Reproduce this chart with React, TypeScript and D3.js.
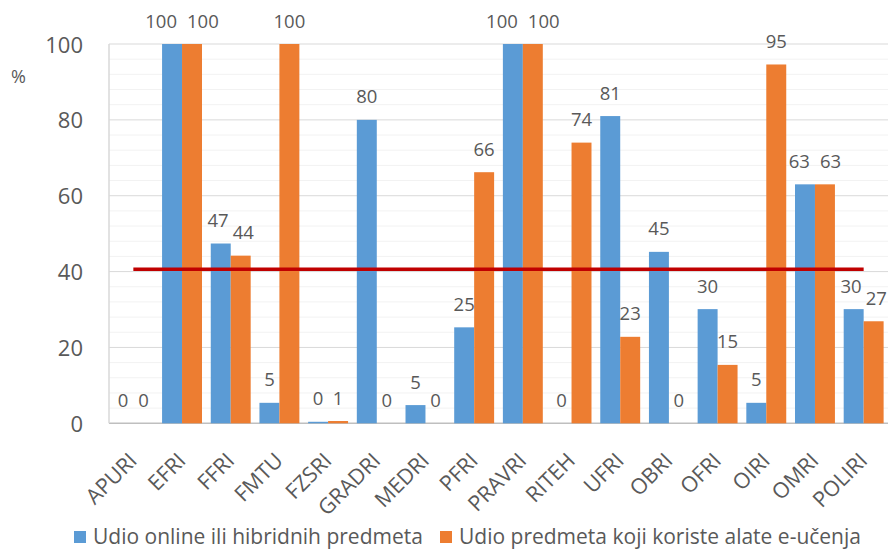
import React from "react";
import * as d3 from "d3";

const categories = ["APURI","EFRI","FFRI","FMTU","FZSRI","GRADRI","MEDRI","PFRI","PRAVRI","RITEH","UFRI","OBRI","OFRI","OIRI","OMRI","POLIRI"];
const onlineShare = [0, 100, 47.4, 5.4, 0.4, 80, 4.8, 25.3, 100, 0, 81, 45.2, 30.1, 5.4, 63, 30.1];
const toolsShare = [0, 100, 44.2, 100, 0.6, 0, 0, 66.2, 100, 74, 22.8, 0, 15.4, 94.6, 63, 26.9];
const averageValue = 40.6;
const seriesNames = ["Udio online ili hibridnih predmeta", "Udio predmeta koji koriste alate e-učenja"];
const seriesColors = ["#5B9BD5", "#ED7D31"];
const yTicks = [0, 20, 40, 60, 80, 100];
const yMinor = d3.range(0, 101, 4);

const W = 893, H = 549;
const left = 109, right = 888, top = 44, bottom = 423.3;
const FONT = "'Open Sans', sans-serif";
const TXT = "#595959";
const LABEL_SIZE = 18.5;
const DIGIT_W = 0.572 * LABEL_SIZE;

export default function App() {
  const x = d3.scaleBand<string>().domain(categories).range([left, right]).paddingInner(0.18).paddingOuter(0.09);
  const x1 = d3.scaleBand<number>().domain([0, 1]).range([0, x.bandwidth()]);
  const y = d3.scaleLinear().domain([0, 100]).range([bottom, top]);
  const series = [onlineShare, toolsShare];
  const fmt = d3.format(".0f");
  const line = d3.line<string>().x(c => (x(c) as number) + x.bandwidth() / 2).y(() => y(averageValue));

  // data labels with simple pairwise collision avoidance
  const labels: { key: string; x: number; y: number; t: string }[] = [];
  categories.forEach((c, i) => {
    const pair = series.map((vals, si) => {
      const t = fmt(vals[i]);
      return { key: c + si, x: (x(c) as number) + (x1(si) as number) + x1.bandwidth() / 2, y: y(vals[i]) - 16.5, t, w: t.length * DIGIT_W };
    });
    const [a, b] = pair;
    if (Math.abs(a.y - b.y) < 14) {
      const gap = (b.x - b.w / 2) - (a.x + a.w / 2);
      const minGap = a.y === b.y ? 10 : 4;
      if (gap < minGap) {
        const shift = (minGap - gap) / 2;
        a.x -= shift;
        b.x += shift;
      }
    }
    labels.push(a, b);
  });

  return (
    <svg width={W} height={H} style={{ position: "absolute", left: 0, top: 0, background: "#fff" }} fontFamily={FONT}>
      {yMinor.filter(v => v % 20 !== 0).map(v => (
        <line key={"m" + v} x1={left} x2={right} y1={y(v)} y2={y(v)} stroke="#F2F2F2" strokeWidth={1} />
      ))}
      {yTicks.map(v => (
        <line key={"g" + v} x1={left} x2={right} y1={y(v)} y2={y(v)} stroke={v === 0 ? "#BFBFBF" : "#D9D9D9"} strokeWidth={v === 0 ? 1.5 : 1} />
      ))}
      <line x1={left} x2={left} y1={top} y2={bottom} stroke="#D9D9D9" strokeWidth={1.5} />
      {yTicks.map(v => (
        <text key={"t" + v} x={83} y={y(v) + 8.5} textAnchor="end" fontSize={22} fill={TXT}>{v}</text>
      ))}
      <text x={11} y={83} fontSize={18} fill={TXT}>%</text>
      {series.map((vals, si) => (
        <g key={"s" + si}>
          {categories.map((c, i) => (
            <rect key={c} x={(x(c) as number) + (x1(si) as number)} y={y(vals[i])} width={x1.bandwidth()} height={bottom - y(vals[i])} fill={seriesColors[si]} />
          ))}
        </g>
      ))}
      <path d={line(categories) || ""} stroke="#C00000" strokeWidth={3.5} fill="none" />
      {labels.map(l => (
        <text key={l.key} x={l.x} y={l.y} textAnchor="middle" fontSize={LABEL_SIZE} fill={TXT}>{l.t}</text>
      ))}
      {categories.map(c => {
        const cx = (x(c) as number) + x.bandwidth() / 2 + 5;
        const cy = 462;
        return (
          <text key={"x" + c} x={cx} y={cy} textAnchor="end" fontSize={21.5} fill={TXT} transform={`rotate(-45 ${cx} ${cy})`}>{c}</text>
        );
      })}
      {seriesNames.map((n, i) => {
        const lx = i === 0 ? 74 : 440;
        return (
          <g key={"lg" + i}>
            <rect x={lx} y={531} width={12} height={12} fill={seriesColors[i]} />
            <text x={lx + 19} y={543.5} fontSize={21} fill={TXT}>{n}</text>
          </g>
        );
      })}
    </svg>
  );
}
